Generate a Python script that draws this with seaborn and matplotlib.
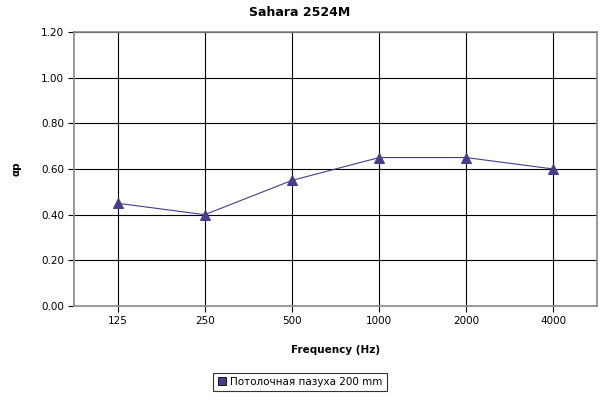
import matplotlib
matplotlib.use("Agg")
import matplotlib.pyplot as plt
import seaborn as sns
import pandas as pd
from matplotlib.lines import Line2D

frequencies = ["125", "250", "500", "1000", "2000", "4000"]
alpha_values = [0.45, 0.40, 0.55, 0.65, 0.65, 0.60]
series_name = "Потолочная пазуха 200 mm"
y_ticks = [0.0, 0.2, 0.4, 0.6, 0.8, 1.0, 1.2]

df = pd.DataFrame({"freq": frequencies, "alpha": alpha_values})

sns.set_style("white")
plt.rcParams["font.family"] = ["DejaVu Sans"]
plt.rcParams["text.color"] = "black"
plt.rcParams["axes.labelcolor"] = "black"
plt.rcParams["xtick.color"] = "black"
plt.rcParams["ytick.color"] = "black"

fig = plt.figure(figsize=(6, 4), dpi=100)
ax = fig.add_axes([0.1233, 0.235, 0.8717, 0.685])

color = "#483D8B"
sns.lineplot(data=df, x="freq", y="alpha", ax=ax, color=color, linewidth=0.8,
             marker="^", markersize=6.5, markeredgecolor=color, sort=False)

ax.set_xlim(-0.5, 5.5)
ax.set_ylim(0, 1.2)
ax.set_yticks(y_ticks)
ax.set_yticklabels([f"{v:.2f}" for v in y_ticks], fontsize=7.5)
ax.set_xticks(range(len(frequencies)))
ax.set_xticklabels(frequencies, fontsize=7.5)
ax.grid(True, color="black", linewidth=0.8)
ax.set_axisbelow(True)
ax.tick_params(axis="both", length=4, width=0.8, direction="out", pad=3,
               bottom=True, left=True)
for s in ax.spines.values():
    s.set_color("#888888")
    s.set_linewidth(1.2)

fig.suptitle("Sahara 2524M", fontsize=9, fontweight="bold", x=0.5, y=0.985, va="top")
ax.set_xlabel("Frequency (Hz)", fontsize=7.5, fontweight="bold", labelpad=14)
ax.set_ylabel("αp", fontsize=7.5, fontweight="bold", labelpad=14)

handle = Line2D([], [], linestyle="none", marker="s", markersize=6,
                markerfacecolor=color, markeredgecolor="black", markeredgewidth=0.6)
leg = fig.legend([handle], [series_name], loc="center", bbox_to_anchor=(0.5, 0.045),
                 fontsize=7.5, frameon=True, fancybox=False, handlelength=0.8,
                 handletextpad=0.4, borderpad=0.4)
leg.get_frame().set_edgecolor("black")
leg.get_frame().set_linewidth(0.8)

fig.savefig("out.png", dpi=100)
